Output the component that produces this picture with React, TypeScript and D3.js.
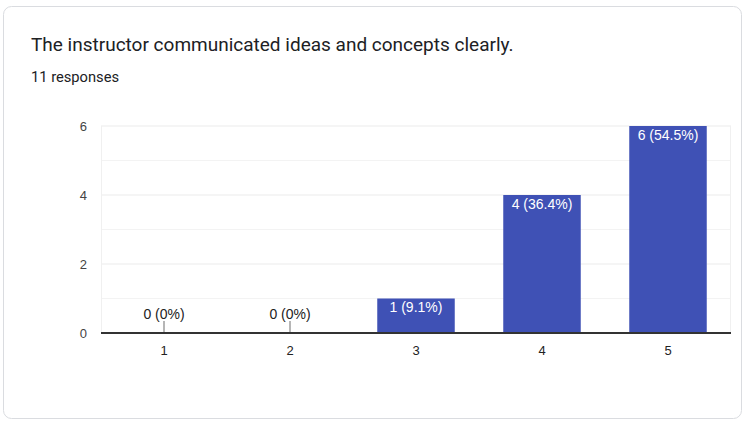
import React from "react";
import * as d3 from "d3";

const categories = ["1", "2", "3", "4", "5"];
const counts = [0, 0, 1, 4, 6];
const labels = ["0 (0%)", "0 (0%)", "1 (9.1%)", "4 (36.4%)", "6 (54.5%)"];
const yTicks = [0, 2, 4, 6];
const gridValues = [1, 2, 3, 4, 5, 6];

export default function App() {
  const W = 745, H = 421;
  const left = 101, right = 731, top = 126, bottom = 333;
  const x = d3.scaleBand<string>().domain(categories).range([left, right]).paddingInner(0.385).paddingOuter(0.1925);
  const y = d3.scaleLinear().domain([0, 6]).range([bottom, top]);
  const font = "Roboto, Arial, sans-serif";
  const cfont = "'Liberation Sans', Arial, sans-serif";
  return (
    <svg width={W} height={H} style={{ position: "absolute", left: 0, top: 0, display: "block" }}>
      <rect x={3.5} y={6.5} width={738} height={412} rx={8} fill="#fff" stroke="#dadce0" />
      <text x={31} y={51} fontFamily={font} fontSize={19} fill="#202124">The instructor communicated ideas and concepts clearly.</text>
      <text x={31} y={82} fontFamily={font} fontSize={14.7} fill="#202124">11 responses</text>
      {gridValues.map(v => (
        <line key={v} x1={left} x2={right} y1={y(v)} y2={y(v)} stroke={v % 2 === 0 ? "#ebebeb" : "#f3f3f3"} strokeWidth={1} />
      ))}
      <line x1={left + 0.5} x2={left + 0.5} y1={top} y2={bottom} stroke="#f0f0f0" />
      <line x1={right - 0.5} x2={right - 0.5} y1={top} y2={bottom} stroke="#f0f0f0" />
      {yTicks.map(v => (
        <text key={v} x={87} y={y(v) + 4.5} textAnchor="end" fontFamily={cfont} fontSize={13} fill="#444">{v}</text>
      ))}
      {categories.map((c, i) => {
        const cx = (x(c) as number) + x.bandwidth() / 2;
        if (counts[i] === 0) {
          return (
            <g key={c}>
              <line x1={cx} x2={cx} y1={bottom - 12} y2={bottom} stroke="#9e9e9e" strokeWidth={1.5} />
              <text x={cx} y={bottom - 14} textAnchor="middle" fontFamily={cfont} fontSize={14} fill="#222">{labels[i]}</text>
            </g>
          );
        }
        return (
          <g key={c}>
            <rect x={x(c)} y={y(counts[i])} width={x.bandwidth()} height={bottom - y(counts[i])} fill="#3f51b5" />
            <text x={cx} y={y(counts[i]) + 13.5} textAnchor="middle" fontFamily={cfont} fontSize={14} fill="#fff">{labels[i]}</text>
          </g>
        );
      })}
      <line x1={left} x2={right} y1={bottom} y2={bottom} stroke="#333" strokeWidth={2} />
      {categories.map(c => (
        <text key={c} x={(x(c) as number) + x.bandwidth() / 2} y={355} textAnchor="middle" fontFamily={cfont} fontSize={13} fill="#222">{c}</text>
      ))}
    </svg>
  );
}
